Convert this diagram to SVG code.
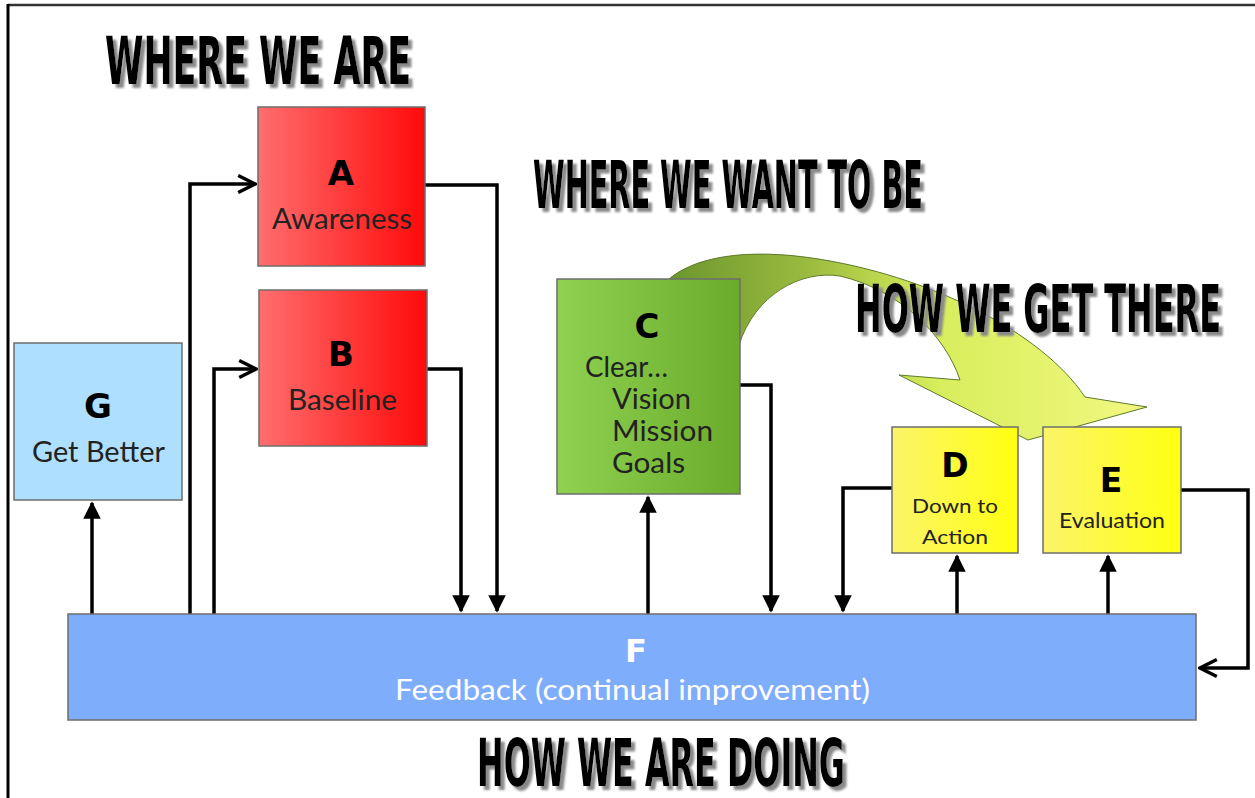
<svg xmlns="http://www.w3.org/2000/svg" width="1255" height="798" viewBox="0 0 1255 798">
  <defs>
    <linearGradient id="gRed" x1="0" y1="0" x2="1" y2="0">
      <stop offset="0" stop-color="#ff6e6e"/>
      <stop offset="1" stop-color="#ff0a0a"/>
    </linearGradient>
    <linearGradient id="gGreen" x1="0" y1="0" x2="1" y2="0">
      <stop offset="0" stop-color="#8fd151"/>
      <stop offset="1" stop-color="#6aab2c"/>
    </linearGradient>
    <linearGradient id="gYellow" x1="0" y1="0" x2="1" y2="0">
      <stop offset="0" stop-color="#fbf46a"/>
      <stop offset="1" stop-color="#ffff10"/>
    </linearGradient>
    <linearGradient id="gBend" gradientUnits="userSpaceOnUse" x1="670" y1="0" x2="1120" y2="0">
      <stop offset="0" stop-color="#6c962e"/>
      <stop offset="0.3" stop-color="#9aba3e"/>
      <stop offset="0.6" stop-color="#d8ee5c"/>
      <stop offset="1" stop-color="#eef77c"/>
    </linearGradient>
    <!-- grey offset shadow behind the heavy headings -->
    <filter id="dropShadow" x="-10%" y="-40%" width="125%" height="190%">
      <feOffset in="SourceAlpha" dx="4" dy="4" result="off"/>
      <feGaussianBlur in="off" stdDeviation="1.2" result="blur"/>
      <feFlood flood-color="#8a8a8a"/>
      <feComposite in2="blur" operator="in" result="shadow"/>
      <feMerge>
        <feMergeNode in="shadow"/>
        <feMergeNode in="SourceGraphic"/>
      </feMerge>
    </filter>
    <marker id="tri" viewBox="0 0 10 10" refX="9" refY="5" markerWidth="5" markerHeight="5" orient="auto" markerUnits="strokeWidth">
      <path d="M0,0 L10,5 L0,10 Z" fill="#000"/>
    </marker>
    <marker id="chev" viewBox="0 0 10 10" refX="9" refY="5" markerWidth="6" markerHeight="6" orient="auto" markerUnits="strokeWidth">
      <path d="M1,1 L9,5 L1,9" fill="none" stroke="#000" stroke-width="1.6" stroke-linejoin="miter"/>
    </marker>
    <style>
      .box { stroke: #6e6e6e; stroke-width: 1.5; }
      .big { font-family: "DejaVu Sans", "Liberation Sans", sans-serif; font-weight: bold; fill: #000; text-anchor: middle; }
      .lbl { font-family: Lato, "Open Sans", sans-serif; fill: #222; }
      .head { font-family: "DejaVu Sans Condensed", "DejaVu Sans", sans-serif; font-weight: bold; font-size: 66px; fill: #000; filter: url(#dropShadow); }
      .conn { fill: none; stroke: #000; stroke-width: 3.5; stroke-linejoin: miter; }
    </style>
  </defs>

  <rect width="1255" height="798" fill="#fff"/>
  <!-- frame -->
  <line x1="8" y1="5" x2="1255" y2="5" stroke="#333" stroke-width="2.5"/>
  <line x1="8" y1="4" x2="8" y2="798" stroke="#000" stroke-width="3"/>

  <!-- headings -->
  <g id="headings">
    <text class="head" x="105" y="84" textLength="306" lengthAdjust="spacingAndGlyphs">WHERE WE ARE</text>
    <text class="head" x="533" y="208" textLength="390" lengthAdjust="spacingAndGlyphs">WHERE WE WANT TO BE</text>
    <text class="head" x="477" y="786" textLength="368" lengthAdjust="spacingAndGlyphs">HOW WE ARE DOING</text>
  </g>

  <!-- connectors -->
  <g id="connectors">
    <path class="conn" d="M190,614 V184 H255" marker-end="url(#chev)"/>
    <path class="conn" d="M214,614 V369 H256" marker-end="url(#chev)"/>
    <path class="conn" d="M425,185 H497 V611" marker-end="url(#tri)"/>
    <path class="conn" d="M427,369 H461 V611" marker-end="url(#tri)"/>
    <path class="conn" d="M92,614 V503" marker-end="url(#tri)"/>
    <path class="conn" d="M648,614 V497" marker-end="url(#tri)"/>
    <path class="conn" d="M740,385 H771 V611" marker-end="url(#tri)"/>
    <path class="conn" d="M892,488 H843 V611" marker-end="url(#tri)"/>
    <path class="conn" d="M957,614 V556" marker-end="url(#tri)"/>
    <path class="conn" d="M1108,614 V556" marker-end="url(#tri)"/>
    <path class="conn" d="M1181,490 H1248 V668 H1200" marker-end="url(#chev)"/>
  </g>

  <!-- curved arrow from C towards D and E -->
  <g id="bend-arrow">
    <path d="M669,279 C700,253 760,248 830,261 C930,279 1040,330 1085,397 L1147,407 L1028,440 L899,375 L960,380 C945,335 900,290 840,276 C800,270 755,295 739,345 L700,330 Z" fill="url(#gBend)" stroke="#5f7a2a" stroke-width="1"/>
  </g>

  <g id="node-A">
    <rect class="box" x="258" y="107" width="167" height="159" fill="url(#gRed)"/>
    <text class="big" x="341" y="185" font-size="34">A</text>
    <text class="lbl" x="272" y="229" font-size="28" textLength="140" lengthAdjust="spacingAndGlyphs">Awareness</text>
  </g>

  <g id="node-B">
    <rect class="box" x="259" y="290" width="168" height="156" fill="url(#gRed)"/>
    <text class="big" x="341" y="366" font-size="34">B</text>
    <text class="lbl" x="288" y="410" font-size="28" textLength="109" lengthAdjust="spacingAndGlyphs">Baseline</text>
  </g>

  <g id="node-G">
    <rect class="box" x="14" y="343" width="168" height="157" fill="#aedfff"/>
    <text class="big" x="98" y="418" font-size="34">G</text>
    <text class="lbl" x="32" y="462" font-size="28" textLength="133" lengthAdjust="spacingAndGlyphs">Get Better</text>
  </g>

  <g id="node-C">
    <rect class="box" x="557" y="279" width="183" height="215" fill="url(#gGreen)"/>
    <text class="big" x="647" y="338" font-size="34">C</text>
    <text class="lbl" x="585" y="377" font-size="28" textLength="83" lengthAdjust="spacingAndGlyphs">Clear…</text>
    <text class="lbl" x="612" y="409" font-size="28" textLength="79" lengthAdjust="spacingAndGlyphs">Vision</text>
    <text class="lbl" x="612" y="441" font-size="28" textLength="101" lengthAdjust="spacingAndGlyphs">Mission</text>
    <text class="lbl" x="612" y="473" font-size="28" textLength="73" lengthAdjust="spacingAndGlyphs">Goals</text>
  </g>

  <g id="headline-how">
    <text class="head" x="855" y="332" textLength="366" lengthAdjust="spacingAndGlyphs">HOW WE GET THERE</text>
  </g>

  <g id="node-D">
    <rect class="box" x="892" y="427" width="126" height="126" fill="url(#gYellow)"/>
    <text class="big" x="955" y="477" font-size="33">D</text>
    <text class="lbl" x="912" y="513" font-size="20" textLength="86" lengthAdjust="spacingAndGlyphs">Down to</text>
    <text class="lbl" x="922" y="544" font-size="20" textLength="66" lengthAdjust="spacingAndGlyphs">Action</text>
  </g>

  <g id="node-E">
    <rect class="box" x="1043" y="427" width="138" height="126" fill="url(#gYellow)"/>
    <text class="big" x="1111" y="492" font-size="33">E</text>
    <text class="lbl" x="1059" y="528" font-size="21" textLength="106" lengthAdjust="spacingAndGlyphs">Evaluation</text>
  </g>

  <g id="node-F">
    <rect class="box" x="68" y="614" width="1128" height="106" fill="#7eadfc"/>
    <text class="big" x="636" y="662" font-size="32" style="fill:#fff">F</text>
    <text class="lbl" x="395" y="700" font-size="28" textLength="475" lengthAdjust="spacingAndGlyphs" style="fill:#fff">Feedback (continual improvement)</text>
  </g>
</svg>
